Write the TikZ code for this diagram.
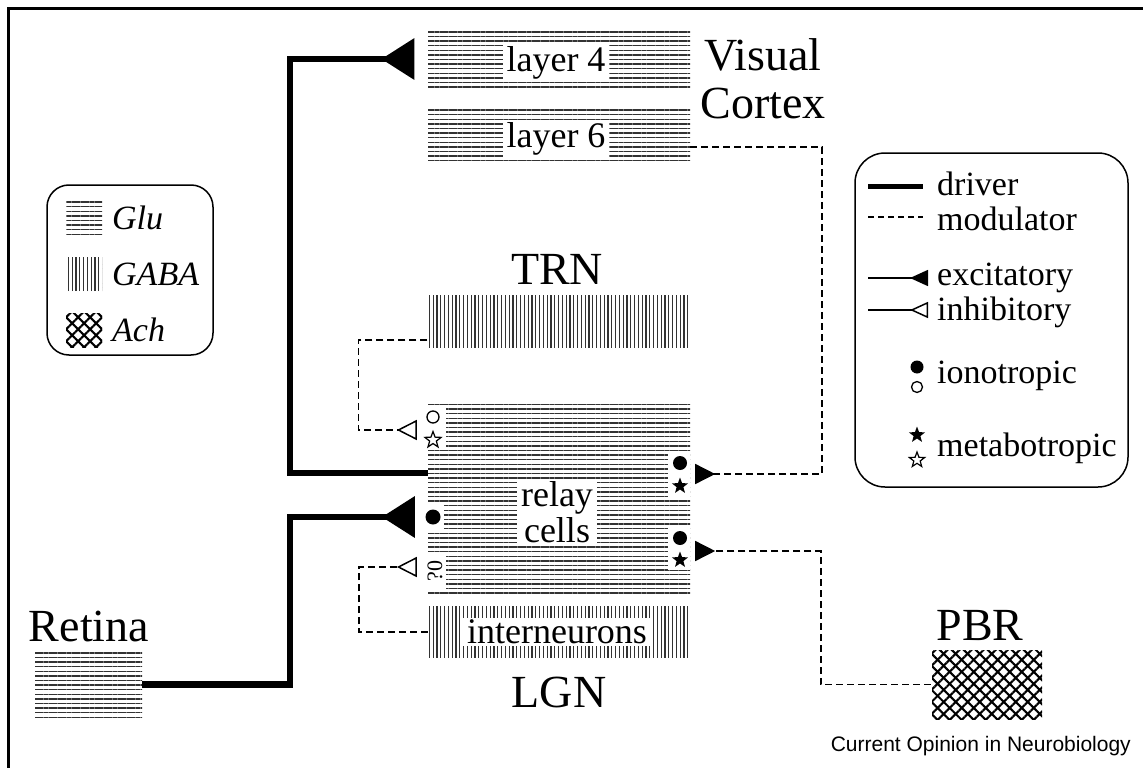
\documentclass[tikz,border=0pt]{standalone}
\usepackage{fontspec}
\setmainfont{Liberation Serif}
\newfontfamily\creditfont{Liberation Sans}
\usetikzlibrary{arrows.meta,patterns.meta,shapes.geometric}

\tikzset{
    glu/.style={
           rectangle,
           inner sep=0pt,
           pattern={Lines[angle=0,distance=4.6pt,line width=1.4pt]},
           pattern color=black!80,
           },
    gaba/.style={
           rectangle,
           inner sep=0pt,
           pattern={Lines[angle=90,distance=3.8pt,line width=1.3pt]},
           pattern color=black!80,
           },
    ach/.style={
           rectangle,
           inner sep=0pt,
           preaction={pattern={Lines[angle=45,distance=8.5pt,line width=2.1pt]}},
           pattern={Lines[angle=-45,distance=8.5pt,line width=2.1pt]},
           },
    tag/.style={fill=white, inner xsep=4pt, inner ysep=1.5pt, align=center,
           font=\fontsize{36}{36}\selectfont},
    title/.style={inner sep=0pt, align=center, font=\fontsize{46}{48}\selectfont},
    keytext/.style={anchor=west, inner sep=0pt, font=\fontsize{34}{36}\selectfont},
    patch/.style={rectangle, fill=white, inner sep=0pt},
    dot/.style={circle, fill=black, inner sep=0pt, minimum size=#1},
    ring/.style={circle, draw=black, line width=1.3pt, fill=white, inner sep=0pt, minimum size=#1},
    fstar/.style={star, star points=5, star point ratio=2.4, fill=black, inner sep=0pt, minimum size=#1},
    ostar/.style={star, star points=5, star point ratio=2.4, draw=black, line width=1.2pt,
           fill=white, inner sep=0pt, minimum size=#1},
    driver/.style={line width=6.5pt},
    modulator/.style={line width=1.5pt, dash pattern=on 7pt off 4pt},
    excite/.style={-{Triangle[reversed,length=33pt,width=40pt]}},
    exmod/.style={-{Triangle[reversed,length=20pt,width=20pt]}},
    inhibit/.style={-{Triangle[open,reversed,length=20pt,width=20pt,line width=1.5pt]}},
}

\begin{document}
\begin{tikzpicture}[x=1pt,y=-1pt]
    \useasboundingbox (0,0) rectangle (1143,768);
    % frame
    \draw[line width=3pt] (8,768) -- (8,9) -- (1143,9);

    % Visual cortex
    \node[glu, minimum width=262pt, minimum height=58pt] (layer4) at (559,59) {};
    \node[tag] (layer4tag) at (556,63) {layer 4};
    \node[glu, minimum width=262pt, minimum height=54pt] (layer6) at (559,135) {};
    \node[tag] (layer6tag) at (556,139) {layer 6};
    \node[title, anchor=north] (cortex) at (763,38) {Visual\\Cortex};

    % TRN
    \node[title] (trntitle) at (557,269) {TRN};
    \node[gaba, minimum width=262pt, minimum height=52pt] (trn) at (559,321) {};

    % LGN: relay cells and interneurons
    \node[glu, minimum width=262pt, minimum height=194pt] (relay) at (559,499) {};
    \node[tag] (relaytag) at (557,512) {relay\\cells};
    \node[gaba, minimum width=262pt, minimum height=51pt] (inter) at (559,632) {};
    \node[tag] (intertag) at (557,632) {interneurons};
    \node[title] (lgn) at (559,692) {LGN};

    % Retina and PBR
    \node[title] (retinatitle) at (89,626) {Retina};
    \node[glu, minimum width=107pt, minimum height=69pt] (retina) at (88.5,684.5) {};
    \node[title] (pbrtitle) at (980,626) {PBR};
    \node[ach, minimum width=110pt, minimum height=69pt] (pbr) at (987,684.5) {};
    \node[anchor=east, inner sep=0pt, font=\creditfont\fontsize{21}{21}\selectfont] (credit)
        at (1131,746) {Current Opinion in Neurobiology};

    % receptors on the relay cells
    \node[patch, minimum width=18pt, minimum height=45pt] (pTRN) at (437,427) {};
    \node[ring=12pt] (rTRNa) at (433,417) {};
    \node[ostar=17pt] (rTRNb) at (433,440) {};
    \node[patch, minimum width=16pt, minimum height=26pt] (pRet) at (436,517) {};
    \node[dot=15pt] (rRet) at (433,517) {};
    \node[patch, minimum width=18pt, minimum height=37pt] (pInt) at (437,571) {};
    \node[rotate=90, inner sep=0pt, font=\fontsize{22}{22}\selectfont] (rInt) at (435,571) {?0};
    \node[patch, minimum width=22pt, minimum height=44pt] (pL6) at (679,475) {};
    \node[dot=14pt] (rL6a) at (680,463) {};
    \node[fstar=17pt] (rL6b) at (680,486) {};
    \node[patch, minimum width=22pt, minimum height=42pt] (pPBR) at (679,549) {};
    \node[dot=14pt] (rPBRa) at (680,538) {};
    \node[fstar=17pt] (rPBRb) at (680,560) {};

    % drivers
    \draw[driver, excite, shorten >=13pt] ([yshift=26pt]relay.west) -- ++(-138pt,0) |- (layer4.west);
    \draw[driver, excite, shorten >=13pt] (retina.east) -- ++(148pt,0) |- ([yshift=-18pt]relay.west);

    % modulators
    \draw[modulator, exmod, shorten >=5pt] ([yshift=-12pt]layer6.east) -- ++(132pt,0) |- ([yshift=25pt]relay.east);
    \draw[modulator, exmod, shorten >=5pt] (pbr.west) -- ++(-110pt,0) |- ([yshift=-52pt]relay.east);
    \draw[modulator, inhibit, shorten >=11pt] ([yshift=-19pt]trn.west) -- ++(-69pt,0) |- ([yshift=69pt]relay.west);
    \draw[modulator, inhibit, shorten >=11pt] (inter.west) -- ++(-69pt,0) |- ([yshift=-68pt]relay.west);

    % key: transmitters
    \node[draw, line width=1.5pt, rounded corners=22pt, minimum width=166pt, minimum height=170pt] (keyleft) at (130,270) {};
    \node[glu, minimum width=36pt, minimum height=34pt] (kglu) at (84,218) {};
    \node[keytext] (tglu) at (112,218) {\textit{Glu}};
    \node[gaba, minimum width=36pt, minimum height=34pt] (kgaba) at (84,274) {};
    \node[keytext] (tgaba) at (112,274) {\textit{GABA}};
    \node[ach, minimum width=36pt, minimum height=34pt] (kach) at (84,330) {};
    \node[keytext] (tach) at (112,330) {\textit{Ach}};

    % key: connections
    \node[draw, line width=1.5pt, rounded corners=30pt, minimum width=273pt, minimum height=334pt] (keyright) at (991.5,320) {};
    \coordinate (kdrv) at (868,186);
    \node[keytext] (tdrv) at (937,184) {driver};
    \draw[line width=5pt] (kdrv) -- ([xshift=-14pt]tdrv.west |- kdrv);
    \coordinate (kmod) at (868,217);
    \node[keytext] (tmod) at (937,219) {modulator};
    \draw[line width=1.5pt, dash pattern=on 6pt off 4pt] (kmod) -- ([xshift=-14pt]tmod.west |- kmod);
    \coordinate (kexc) at (868,278);
    \node[keytext] (texc) at (937,278) {excitatory};
    \draw[line width=1.5pt, -{Triangle[reversed,length=18pt,width=16pt]}] (kexc) -- ([xshift=-9pt]texc.west |- kexc);
    \coordinate (kinh) at (868,310);
    \node[keytext] (tinh) at (937,312) {inhibitory};
    \draw[line width=1.5pt, -{Triangle[open,reversed,length=18pt,width=16pt,line width=1.5pt]}] (kinh) -- ([xshift=-9pt]tinh.west |- kinh);
    \node[dot=13pt] (kiona) at (917,367) {};
    \node[ring=11pt] (kionb) at (917,387) {};
    \node[keytext] (tion) at (937,376) {ionotropic};
    \node[fstar=17pt] (kmeta) at (917,435) {};
    \node[ostar=16pt] (kmetb) at (917,460) {};
    \node[keytext] (tmet) at (937,448) {metabotropic};
\end{tikzpicture}
\end{document}
